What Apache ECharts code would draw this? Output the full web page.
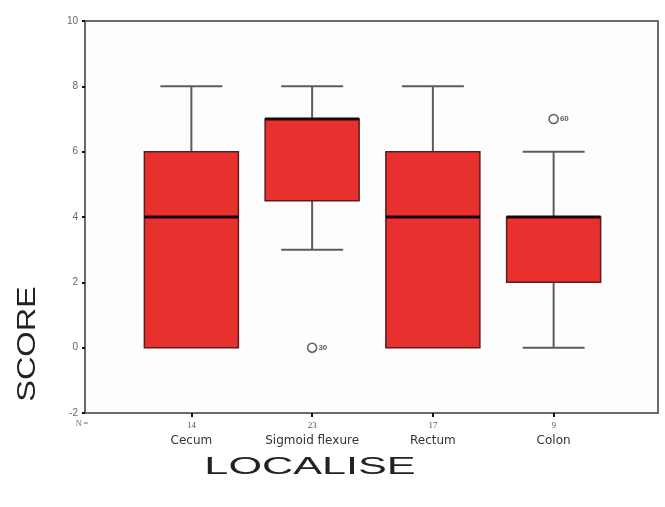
<!DOCTYPE html>
<html>
<head>
<meta charset="utf-8">
<script src="https://cdn.jsdelivr.net/npm/echarts@6/dist/echarts.min.js"></script>
<style>
  html, body { margin: 0; padding: 0; background: #fff; }
  #chart { width: 665px; height: 507px; }
</style>
</head>
<body>
<div id="chart"></div>
<script>
// Score by localisation: box summaries per site
const categories = ['Cecum', 'Sigmoid flexure', 'Rectum', 'Colon'];
const counts = [14, 23, 17, 9];
// [lower whisker, Q1, median, Q3, upper whisker]
const lowWhisker = [0, 3, 0, 0];
const q1 = [0, 4.5, 0, 2];
const median = [4, 7, 4, 4];
const q3 = [6, 7, 6, 4];
const highWhisker = [8, 8, 8, 6];
// outliers: [category index, score, case number]
const outliers = [[1, 0, '30'], [3, 7, '60']];
const yTicks = [-2, 0, 2, 4, 6, 8, 10];

const boxData = categories.map((c, i) => [i, lowWhisker[i], q1[i], median[i], q3[i], highWhisker[i]]);

const chart = echarts.init(document.getElementById('chart'));

const gridTop = 21, gridBottom = 507 - 413;

chart.setOption({
  animation: false,
  backgroundColor: '#ffffff',
  grid: [
    { left: 85, right: 7, top: gridTop, bottom: gridBottom, show: true, borderColor: '#6a6a6a', borderWidth: 2, backgroundColor: '#fdfdfd' },
    { left: 131, right: 51, top: gridTop, bottom: gridBottom }
  ],
  xAxis: [
    { type: 'value', gridIndex: 0, min: 0, max: 1, show: false },
    {
      type: 'category', gridIndex: 1, data: categories,
      axisLine: { show: false, onZero: false },
      axisTick: { show: true, alignWithLabel: true, length: 4, lineStyle: { color: '#111', width: 2 } },
      axisLabel: {
        interval: 0,
        margin: 6,
        formatter: (v, i) => '{n|' + counts[i] + '}\n{c|' + v + '}',
        rich: {
          n: { fontFamily: 'Liberation Serif', fontSize: 9, color: '#555', lineHeight: 14 },
          c: { fontFamily: 'DejaVu Sans', fontSize: 12, color: '#333', lineHeight: 16 }
        }
      }
    }
  ],
  yAxis: [
    {
      type: 'value', gridIndex: 0, min: yTicks[0], max: yTicks[yTicks.length - 1], interval: 2,
      axisLine: { show: false },
      axisTick: { show: true, length: 3, lineStyle: { color: '#111', width: 2 } },
      splitLine: { show: false },
      axisLabel: { fontFamily: 'Liberation Sans', fontSize: 10, color: '#666', margin: 7 }
    },
    { type: 'value', gridIndex: 1, min: yTicks[0], max: yTicks[yTicks.length - 1], interval: 2, show: false }
  ],
  graphic: [
    {
      type: 'text', x: 88, y: 424,
      style: { text: 'N =', fontFamily: 'Liberation Serif', fontSize: 8, fill: '#666', align: 'right', verticalAlign: 'middle' }
    },
    {
      type: 'text', x: 310, y: 467, scaleX: 1.8,
      style: { text: 'LOCALISE', fontFamily: 'Liberation Sans', fontSize: 24, fill: '#222', align: 'center', verticalAlign: 'middle' }
    },
    {
      type: 'text', x: 28, y: 344, rotation: Math.PI / 2, scaleX: 1.3,
      style: { text: 'SCORE', fontFamily: 'Liberation Sans', fontSize: 25, fill: '#222', align: 'center', verticalAlign: 'middle' }
    }
  ],
  series: [
    {
      type: 'custom',
      xAxisIndex: 1, yAxisIndex: 1,
      data: boxData,
      renderItem: function (params, api) {
        const idx = api.value(0);
        const lo = api.coord([idx, api.value(1)]);
        const b1 = api.coord([idx, api.value(2)]);
        const md = api.coord([idx, api.value(3)]);
        const b3 = api.coord([idx, api.value(4)]);
        const hi = api.coord([idx, api.value(5)]);
        const x = lo[0];
        const halfBox = 47, halfCap = 31;
        const whisker = { stroke: '#5c5c5c', lineWidth: 2 };
        const parts = [];
        if (hi[1] < b3[1]) {
          parts.push({ type: 'line', shape: { x1: x, y1: hi[1], x2: x, y2: b3[1] }, style: whisker });
          parts.push({ type: 'line', shape: { x1: x - halfCap, y1: hi[1], x2: x + halfCap, y2: hi[1] }, style: whisker });
        }
        if (lo[1] > b1[1]) {
          parts.push({ type: 'line', shape: { x1: x, y1: b1[1], x2: x, y2: lo[1] }, style: whisker });
          parts.push({ type: 'line', shape: { x1: x - halfCap, y1: lo[1], x2: x + halfCap, y2: lo[1] }, style: whisker });
        }
        parts.push({
          type: 'rect',
          shape: { x: x - halfBox, y: b3[1], width: halfBox * 2, height: b1[1] - b3[1] },
          style: { fill: '#e8312f', stroke: '#5a1c1c', lineWidth: 1.5 }
        });
        parts.push({ type: 'line', shape: { x1: x - halfBox, y1: md[1], x2: x + halfBox, y2: md[1] }, style: { stroke: '#1a0505', lineWidth: 3 } });
        return { type: 'group', children: parts };
      }
    },
    {
      type: 'scatter',
      xAxisIndex: 1, yAxisIndex: 1,
      data: outliers.map(o => ({ value: [o[0], o[1]], name: o[2] })),
      symbol: 'circle',
      symbolSize: 9,
      itemStyle: { color: '#ffffff', borderColor: '#333', borderWidth: 1.5 },
      label: {
        show: true, position: 'right', distance: 1,
        formatter: p => p.name,
        fontFamily: 'Liberation Sans', fontSize: 8, fontWeight: 'bold', color: '#333'
      }
    }
  ]
});
</script>
</body>
</html>
